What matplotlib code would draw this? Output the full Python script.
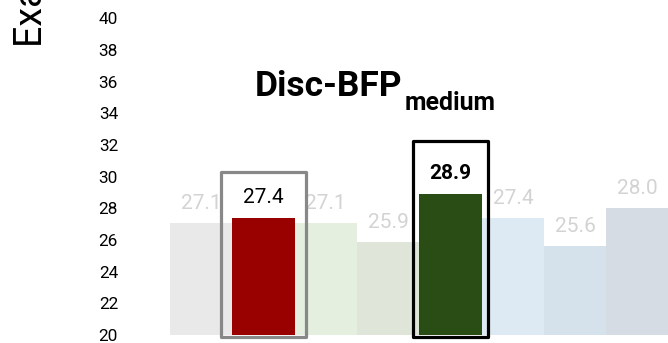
import matplotlib
matplotlib.use("Agg")
import matplotlib.pyplot as plt
from matplotlib.patches import FancyBboxPatch

plt.rcParams['font.family'] = ['Roboto', 'DejaVu Sans']

# Scores per configuration
values = [27.1, 27.4, 27.1, 25.9, 28.9, 27.4, 25.6, 28.0]
colors = ['#e9e9e9', '#990000', '#e4efdf', '#dfe6d9',
          '#294d15', '#deeaf3', '#d6e2eb', '#d5dce4']
highlight = {1: '#888888', 4: '#000000'}   # bar index -> frame colour
yticks = list(range(20, 41, 2))
title_main = 'Disc-BFP'
title_sub = 'medium'
ylabel = 'Exact Match (%)'

W, H = 668, 343
fig = plt.figure(figsize=(W / 100, H / 100), dpi=100)
ax = fig.add_axes([125 / W, (H - 335) / H, (668 - 125) / W, 0.9464])

x = list(range(len(values)))
ax.bar(x, values, width=1.0, bottom=0, color=colors, zorder=2)

ax.set_ylim(20, 40.5)
ax.set_xlim(-1.223, 7.49)
ax.set_yticks(yticks)
ax.set_yticklabels([str(t) for t in yticks], fontsize=12.4)
ax.tick_params(axis='y', length=0, pad=5)
ax.set_xticks([])
for s in ax.spines.values():
    s.set_visible(False)

# value labels
for i, v in enumerate(values):
    if i in highlight:
        weight = 'bold' if i == 4 else 'normal'
        ax.annotate(f'{v:.1f}', (i, v), xytext=(0, 11), textcoords='offset points',
                    ha='center', va='baseline', fontsize=15, color='black',
                    fontweight=weight, zorder=5)
    else:
        ax.annotate(f'{v:.1f}', (i, v), xytext=(0, 10), textcoords='offset points',
                    ha='center', va='baseline', fontsize=15, color='#d3d3d3',
                    zorder=1)

# frames around the highlighted bars
frame_half = {1: 0.68, 4: 0.60}
frame_head = {1: 2.9, 4: 3.35}
for i, ec in highlight.items():
    hw = frame_half[i]
    top = values[i] + frame_head[i]
    box = FancyBboxPatch((i - hw, 19.87), 2 * hw, top - 19.87,
                         boxstyle='square,pad=0', facecolor='none',
                         edgecolor=ec, linewidth=2.3, joinstyle='round',
                         clip_on=False, zorder=4)
    ax.add_patch(box)

# title with a subscripted suffix
t_main = fig.text(255 / W, (H - 96) / H, title_main, ha='left', va='baseline',
                  fontsize=25.5, fontweight='bold')
fig.canvas.draw()
bb = t_main.get_window_extent(renderer=fig.canvas.get_renderer())
fig.text((bb.x1 + 2) / W, (H - 110) / H, title_sub, ha='left', va='baseline',
         fontsize=17.9, fontweight='bold')

fig.text(31 / W, (H - 47) / H, ylabel, rotation=90, ha='center', va='bottom',
         fontsize=27)

fig.savefig('out.png', dpi=100)
